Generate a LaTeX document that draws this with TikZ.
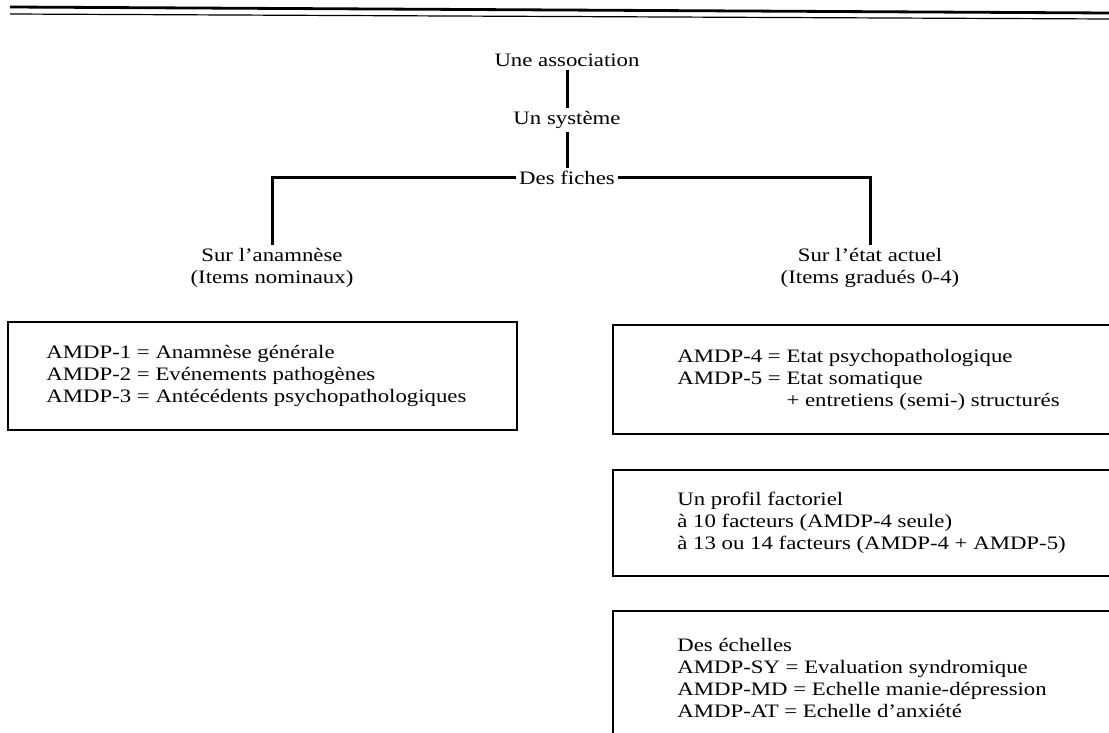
\documentclass[tikz,border=0pt]{standalone}
\usepackage{fontspec}
\setmainfont{Liberation Serif}[FakeStretch=1.2]
\usetikzlibrary{calc,positioning}
\tikzset{
	lbl/.style={font=\fontsize{9.5}{11}\selectfont, inner sep=1.5pt, align=center},
	txt/.style={lbl, align=left, anchor=west},
	link/.style={line width=1.5pt},
	frame/.style={line width=0.7pt}
}

\begin{document}
\begin{tikzpicture}[x=0.5pt, y=-0.5pt, line cap=butt, line join=miter]
    \useasboundingbox (0,0) rectangle (1109,733);

    \draw[line width=1.4pt] (10,7)--(1109,13);
    \draw[line width=0.6pt] (10,14)--(1109,19);

    \node[lbl] (assoc)  at (567,60)  {Une association};
    \node[lbl] (syst)   at (567,120) {Un système};
    \node[lbl] (fiches) at (567,178) {Des fiches};

    \node[lbl] (anam) at (272,268) {Sur l'anamnèse\\(Items nominaux)};
    \node[lbl] (etat) at (870,268) {Sur l'état actuel\\(Items gradués 0-4)};

    \draw[link] (assoc)--(syst)--(fiches);
    \draw[link] (fiches.west) -| (anam.north);
    \draw[link] (fiches.east) -| (etat.north);

    \draw[frame] (8,322) rectangle (517,430);
    \node[txt] (amdpA) at (43,376) {AMDP-1 = Anamnèse générale\\
        AMDP-2 = Evénements pathogènes\\
        AMDP-3 = Antécédents psychopathologiques};

    \draw[frame] (1109,325)--(613,325)--(613,434)--(1109,434);
    \node[txt] (amdpB) at (674,380) {AMDP-4 = Etat psychopathologique\\
        AMDP-5 = Etat somatique\\
        \hphantom{AMDP-5 = }+ entretiens (semi-) structurés};

    \draw[frame] (1109,470)--(613,470)--(613,576)--(1109,576);
    \node[txt] (profil) at (674,523) {Un profil factoriel\\
        à 10 facteurs (AMDP-4 seule)\\
        à 13 ou 14 facteurs (AMDP-4 + AMDP-5)};

    \draw[frame] (1109,611)--(613,611)--(613,733);
    \node[txt] (echelles) at (674,678) {Des échelles\\
        AMDP-SY = Evaluation syndromique\\
        AMDP-MD = Echelle manie-dépression\\
        AMDP-AT = Echelle d'anxiété};
\end{tikzpicture}
\end{document}
